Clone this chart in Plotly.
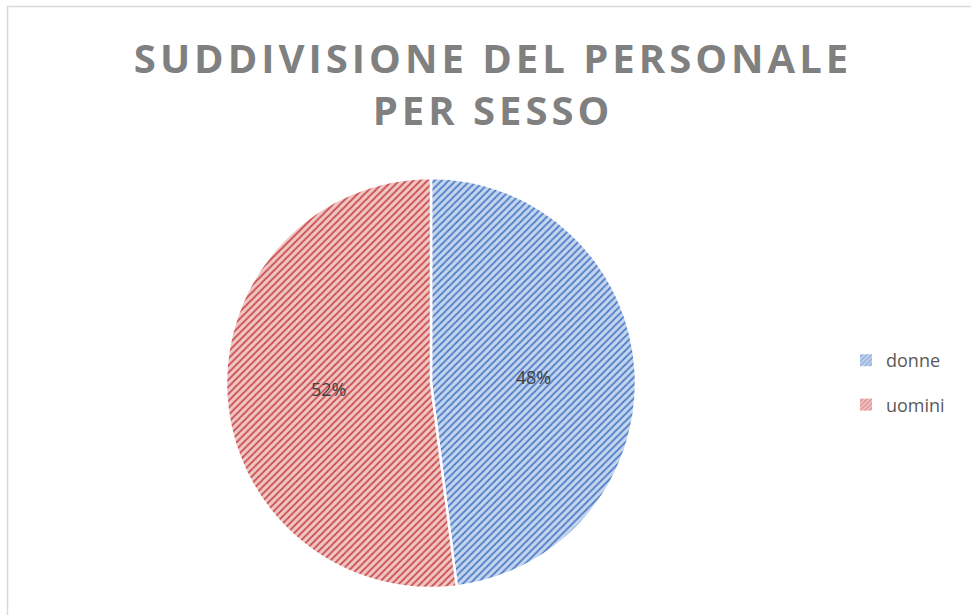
import plotly.graph_objects as go

labels = ["donne", "uomini"]
values = [48, 52]
title_text = "SUDDIVISIONE DEL PERSONALE<br>PER SESSO"

bg_colors = ["#c5d5ee", "#f0c6c5"]
fg_colors = ["#4f7fc8", "#c9504d"]

W, H = 971, 615
cx, cy, r = 431, 383, 205

fig = go.Figure()
fig.add_trace(go.Pie(
    labels=labels,
    values=values,
    sort=False,
    direction="clockwise",
    rotation=0,
    textinfo="percent",
    texttemplate="%{percent:.0%}",
    textposition="inside",
    insidetextorientation="horizontal",
    textfont=dict(family="Open Sans", size=18, color="#404040"),
    marker=dict(
        colors=bg_colors,
        line=dict(color="white", width=2.5),
        pattern=dict(shape="/", fgcolor=fg_colors, bgcolor=bg_colors, size=5, solidity=0.35),
    ),
    domain=dict(x=[(cx - r) / W, (cx + r) / W], y=[1 - (cy + r) / H, 1 - (cy - r) / H]),
    showlegend=False,
))

# legend entries (patterned swatches)
for i, lab in enumerate(labels):
    fig.add_trace(go.Bar(
        x=[None], y=[None], name=lab, legendgroup=lab, showlegend=True,
        marker=dict(color=bg_colors[i], line=dict(width=0),
                    pattern=dict(shape="/", fgcolor=fg_colors[i], bgcolor=bg_colors[i], size=4, solidity=0.4)),
    ))

fig.update_layout(
    width=W, height=H,
    margin=dict(l=0, r=0, t=0, b=0),
    paper_bgcolor="white",
    plot_bgcolor="white",
    xaxis=dict(visible=False),
    yaxis=dict(visible=False),
    title=dict(
        text=title_text,
        x=493 / W, xanchor="center",
        y=1 - 73 / H, yanchor="top",
        font=dict(family="Open Sans", size=40, color="#808080", weight="bold"),
    ),
    legend=dict(
        x=846 / W, y=1 - 342 / H, xanchor="left", yanchor="top",
        font=dict(family="Open Sans", size=18, color="#595959"),
        tracegroupgap=18, itemwidth=30, bgcolor="rgba(0,0,0,0)",
    ),
    shapes=[dict(type="rect", xref="paper", yref="paper",
                 x0=7.5 / W, x1=1.02, y0=-0.02, y1=1 - 6.5 / H,
                 line=dict(color="#d9d9d9", width=1.5), fillcolor="rgba(0,0,0,0)")],
)

post = """
document.body.style.margin='0';
document.body.style.overflow='hidden';
var t = document.querySelectorAll('.gtitle');
t.forEach(function(e){ e.style.letterSpacing='4px'; });
"""
fig.write_html("out.html", post_script=post, config={"displayModeBar": False})
